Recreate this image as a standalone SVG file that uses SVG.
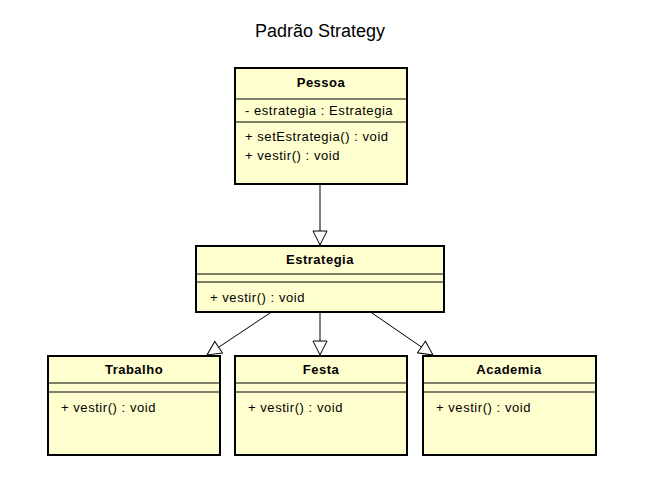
<svg xmlns="http://www.w3.org/2000/svg" width="664" height="499" viewBox="0 0 664 499">
<style>
.box{fill:#FEFECE;stroke:#000;stroke-width:2}
.sep{stroke:#000;stroke-width:1}
.t{font-family:"Liberation Sans",Arial,sans-serif;font-size:13px;letter-spacing:0.55px;fill:#000}
.h{font-family:"Liberation Sans",Arial,sans-serif;font-size:13px;font-weight:bold;letter-spacing:0.5px;fill:#000;text-anchor:middle}
.title{font-family:"Liberation Sans",Arial,sans-serif;font-size:18px;fill:#000;text-anchor:middle}
.edge{stroke:#000;stroke-width:1;fill:none;marker-end:url(#tri)}
</style>
<defs>
<marker id="tri" markerUnits="userSpaceOnUse" markerWidth="16" markerHeight="16" viewBox="0 0 16 16" refX="15" refY="8" orient="auto">
<path d="M1,1 L15,8 L1,15 Z" fill="#fff" stroke="#000" stroke-width="1"/>
</marker>
</defs>
<rect width="664" height="499" fill="#fff"/>
<text class="title" x="320" y="37">Padrão Strategy</text>
<g id="connectors">
<line class="edge" x1="320" y1="185" x2="320" y2="245"/>
<line class="edge" x1="320" y1="313" x2="320" y2="355"/>
<line class="edge" x1="270" y1="313" x2="207" y2="355"/>
<line class="edge" x1="372" y1="313" x2="433" y2="355"/>
</g>
<g id="Pessoa">
<rect class="box" x="235" y="68" width="172" height="116"/>
<line class="sep" x1="235" y1="99" x2="407" y2="99"/>
<line class="sep" x1="235" y1="122" x2="407" y2="122"/>
<text class="h" x="321" y="87">Pessoa</text>
<text class="t" x="245" y="115">- estrategia : Estrategia</text>
<text class="t" x="245" y="141">+ setEstrategia() : void</text>
<text class="t" x="245" y="160">+ vestir() : void</text>
</g>
<g id="Estrategia">
<rect class="box" x="196" y="246" width="248" height="66"/>
<line class="sep" x1="196" y1="274" x2="444" y2="274"/>
<line class="sep" x1="196" y1="282" x2="444" y2="282"/>
<text class="h" x="320" y="264">Estrategia</text>
<text class="t" x="210" y="302">+ vestir() : void</text>
</g>
<g id="Trabalho">
<rect class="box" x="48" y="356" width="172" height="99"/>
<line class="sep" x1="48" y1="383" x2="220" y2="383"/>
<line class="sep" x1="48" y1="392" x2="220" y2="392"/>
<text class="h" x="134" y="374">Trabalho</text>
<text class="t" x="61" y="412">+ vestir() : void</text>
</g>
<g id="Festa">
<rect class="box" x="235" y="356" width="172" height="99"/>
<line class="sep" x1="235" y1="383" x2="407" y2="383"/>
<line class="sep" x1="235" y1="392" x2="407" y2="392"/>
<text class="h" x="321" y="374">Festa</text>
<text class="t" x="248" y="412">+ vestir() : void</text>
</g>
<g id="Academia">
<rect class="box" x="423" y="356" width="173" height="99"/>
<line class="sep" x1="423" y1="383" x2="596" y2="383"/>
<line class="sep" x1="423" y1="392" x2="596" y2="392"/>
<text class="h" x="509" y="374">Academia</text>
<text class="t" x="436" y="412">+ vestir() : void</text>
</g>
</svg>
